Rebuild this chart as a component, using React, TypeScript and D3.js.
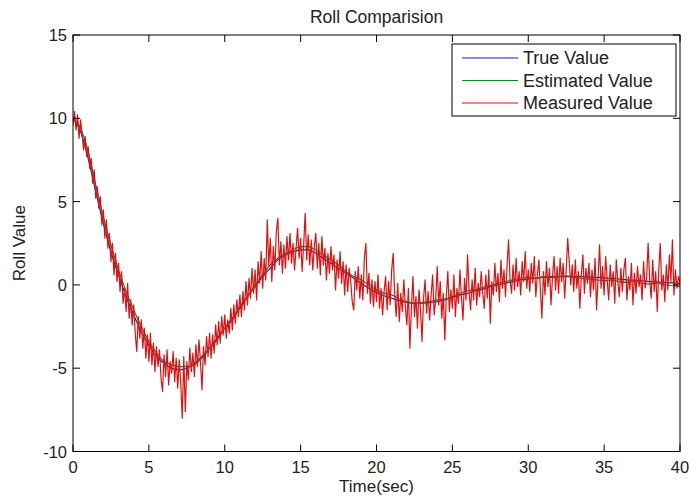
import React from "react";
import * as d3 from "d3";

const W = 689;
const H = 498;

const title = "Roll Comparision";
const xLabel = "Time(sec)";
const yLabel = "Roll Value";
const xTicks = [0, 5, 10, 15, 20, 25, 30, 35, 40];
const yTicks = [-10, -5, 0, 5, 10, 15];
const legendNames = ["True Value", "Estimated Value", "Measured Value"];
const seriesColors = ["#1c1cb8", "#0a8a1e", "#e01010"];

// sampled every 0.5 s from 0 to 40
const trueStep = 0.5;
const trueValues = [
  10.0, 9.2, 7.6, 5.6, 3.7, 2.0, 0.6, -0.7, -1.8, -2.8,
  -3.6, -4.3, -4.7, -5.0, -5.1, -5.0, -4.7, -4.3, -3.8, -3.2,
  -2.6, -2.0, -1.4, -0.7, -0.1, 0.5, 1.0, 1.5, 1.8, 2.0,
  2.1, 2.1, 1.9, 1.6, 1.3, 1.0, 0.7, 0.4, 0.1, -0.2,
  -0.45, -0.65, -0.8, -0.95, -1.05, -1.1, -1.1, -1.05, -1.0, -0.9,
  -0.75, -0.6, -0.5, -0.35, -0.25, -0.1, 0.0, 0.1, 0.2, 0.3,
  0.35, 0.4, 0.45, 0.5, 0.5, 0.5, 0.5, 0.5, 0.48, 0.45,
  0.42, 0.4, 0.35, 0.3, 0.28, 0.25, 0.2, 0.18, 0.15, 0.12,
  0.1,
];

const estimatedStep = 0.5;
const estimatedValues = [
  10.0, 9.4, 8.0, 6.0, 4.1, 2.4, 0.9, -0.4, -1.5, -2.5,
  -3.4, -4.1, -4.6, -4.8, -4.9, -4.9, -4.8, -4.4, -3.8, -3.3,
  -2.6, -2.1, -1.3, -0.7, 0.0, 0.6, 1.2, 1.6, 1.9, 2.1,
  2.3, 2.3, 2.1, 1.8, 1.5, 1.2, 0.8, 0.5, 0.3, 0.0,
  -0.3, -0.5, -0.6, -0.85, -1.0, -1.1, -1.05, -1.0, -0.9, -0.85,
  -0.7, -0.5, -0.35, -0.3, -0.15, -0.05, 0.1, 0.2, 0.3, 0.4,
  0.45, 0.4, 0.5, 0.45, 0.5, 0.55, 0.45, 0.4, 0.35, 0.3,
  0.25, 0.3, 0.2, 0.15, 0.2, 0.1, 0.05, 0.1, 0.0, -0.05,
  -0.1,
];

// sampled every 0.1 s from 0 to 40
const measuredStep = 0.1;
const measuredValues = [
  9.6, 10.4, 9.3, 10.2, 8.8, 9.9, 9.0, 8.1, 8.9, 7.7,
  8.3, 7.0, 7.6, 6.1, 6.9, 5.2, 5.9, 4.6, 5.3, 3.6,
  4.5, 2.8, 3.9, 2.2, 3.1, 1.4, 2.5, 0.6, 1.9, 0.2,
  1.3, -0.4, 0.8, -1.1, -0.2, -1.6, 0.1, -2.0, -0.9, -2.4,
  -1.2, -2.9, -4.0, -1.9, -3.2, -2.1, -3.8, -2.6, -4.4, -3.0,
  -4.6, -2.9, -4.8, -3.5, -5.2, -3.7, -4.9, -3.9, -5.6, -6.4,
  -4.2, -5.5, -3.9, -6.0, -4.6, -5.3, -4.0, -5.8, -4.4, -6.2,
  -4.5, -5.9, -8.0, -4.3, -7.6, -4.6, -5.7, -3.8, -5.2, -4.1,
  -5.5, -3.6, -4.9, -3.3, -4.6, -6.3, -3.7, -4.8, -3.1, -4.3,
  -2.9, -4.4, -3.0, -4.1, -2.4, -3.6, -2.2, -3.5, -1.9, -3.0,
  -1.8, -3.2, -2.1, -2.9, -1.4, -2.7, -1.2, -2.3, -0.9, -1.9,
  -0.6, -1.9, -0.4, -1.5, 0.2, -1.2, 0.4, -0.8, 1.0, -0.5,
  0.9, -0.9, 1.4, 0.1, 2.0, -0.2, 1.6, 0.3, 3.9, 1.1,
  2.8, 0.2, 2.3, 0.9, 3.2, 4.0, 1.2, 2.6, 0.7, 2.4,
  1.0, 2.9, 1.5, 3.1, 1.3, 2.5, 0.9, 2.2, 3.4, 1.6,
  2.8, 0.8, 2.4, 4.3, 1.5, 3.0, 1.2, 2.7, 0.9, 2.3,
  3.1, 1.0, 2.5, 0.6, 2.9, 1.2, 2.2, 0.3, 1.9, 0.7,
  2.3, 0.9, 1.8, -0.3, 1.5, 0.4, 2.0, 0.1, 1.4, -0.6,
  1.2, -0.4, 1.0, 0.2, -1.0, -1.5, 0.8, -0.3, 1.1, -0.8,
  0.6, -0.9, 1.6, 2.5, -0.5, 0.7, -1.1, 0.3, -1.3, 0.2,
  -1.0, 0.6, -1.4, -0.2, -1.8, -0.4, 0.5, -1.5, 0.2, -1.2,
  0.9, 1.9, -0.6, -1.9, 0.1, -2.2, -0.5, -1.6, 0.3, -1.3,
  -2.4, -0.2, -3.8, -1.4, 0.5, -1.9, -0.7, -2.6, -0.3, -1.5,
  -3.4, -0.8, 0.3, -1.7, -0.4, -2.1, -0.6, 0.6, -1.8, -0.9,
  1.1, -1.2, 0.2, -2.0, -0.5, -3.3, -0.7, 0.8, -1.6, -0.3,
  -1.4, 0.6, -1.9, -0.2, -1.1, 0.9, -0.8, -2.1, 0.4, -0.9,
  1.8, -0.4, -1.5, 0.3, -0.9, 1.0, -1.2, 0.1, -0.7, 0.8,
  -0.5, -1.4, 0.6, -0.8, 0.9, -2.3, 0.2, -0.6, 1.3, -0.4,
  0.7, -1.0, 1.5, -0.2, 0.9, -0.7, 1.1, 2.7, 0.3, -0.5,
  1.2, -0.3, 1.6, -0.1, 0.8, -0.6, 1.4, 0.2, 2.0, -0.2,
  0.9, -0.4, 1.3, 0.1, 1.7, -0.7, 0.6, 1.5, -0.3, -2.0,
  0.8, -0.6, 1.4, -0.1, 1.0, -1.2, 0.5, 1.7, -0.3, 1.1,
  -0.5, 1.6, 0.2, 1.3, -0.8, 0.9, 2.8, 1.4, 0.0, 1.2,
  -0.4, 1.5, -0.2, 0.8, -1.4, 0.6, 1.8, -0.5, 1.0, 0.1,
  1.3, -0.7, 0.9, -0.3, 1.6, -1.5, 0.4, 2.4, -0.2, 1.1,
  -0.6, 1.7, 0.3, -0.9, 1.2, -0.1, 0.8, -1.1, 1.5, 0.2,
  -0.7, 1.0, -0.4, 0.9, 1.6, -0.9, 0.5, -0.3, 1.3, -1.2,
  0.7, -0.5, 1.1, -0.1, 0.6, -0.9, 1.4, -0.2, 0.4, 2.5,
  0.3, -0.8, 1.5, -0.4, 0.8, -1.6, 0.9, 2.5, -0.3, 0.6,
  -1.0, 1.2, -0.3, 1.8, 0.2, 2.7, -0.6, 0.9, -0.2, 0.5,
  0.1,
];

const FONT = "'Liberation Sans', Arial, Helvetica, sans-serif";

export default function App() {
  const left = 73, right = 680, top = 35, bottom = 451.5;
  const x = d3.scaleLinear().domain([0, 40]).range([left, right]);
  const y = d3.scaleLinear().domain([-10, 15]).range([bottom, top]);

  const mk = (vals: number[], step: number) =>
    vals.map((v, i) => [i * step, v] as [number, number]);

  const lineLin = d3
    .line<[number, number]>()
    .x((d) => x(d[0]))
    .y((d) => y(d[1]));
  const lineSmooth = d3
    .line<[number, number]>()
    .x((d) => x(d[0]))
    .y((d) => y(d[1]))
    .curve(d3.curveMonotoneX);

  const series = [
    { d: lineSmooth(mk(trueValues, trueStep)), c: seriesColors[0] },
    { d: lineSmooth(mk(estimatedValues, estimatedStep)), c: seriesColors[1] },
    { d: lineLin(mk(measuredValues, measuredStep)), c: seriesColors[2] },
  ];

  const tickLen = 7;
  const lg = { x: 452, y: 44, w: 224, h: 72 };

  return (
    <svg
      width={W}
      height={H}
      style={{ position: "absolute", left: 0, top: 0, background: "#fff" }}
      fontFamily={FONT}
    >
      <rect x={0} y={0} width={W} height={H} fill="#fff" />
      <defs>
        <clipPath id="plotclip">
          <rect x={left} y={top} width={right - left} height={bottom - top} />
        </clipPath>
      </defs>
      <g clipPath="url(#plotclip)">
        {series.map((s, i) => (
          <path key={i} d={s.d || ""} fill="none" stroke={s.c} strokeWidth={1.2} strokeLinejoin="round" />
        ))}
      </g>
      <rect x={left} y={top} width={right - left} height={bottom - top} fill="none" stroke="#000" strokeWidth={1} />
      {xTicks.map((t) => (
        <g key={"x" + t}>
          <line x1={x(t)} x2={x(t)} y1={bottom} y2={bottom - tickLen} stroke="#000" />
          <line x1={x(t)} x2={x(t)} y1={top} y2={top + tickLen} stroke="#000" />
          <text x={x(t)} y={473} textAnchor="middle" fontSize={16.5} fill="#222">
            {t}
          </text>
        </g>
      ))}
      {yTicks.map((t) => (
        <g key={"y" + t}>
          <line x1={left} x2={left + tickLen} y1={y(t)} y2={y(t)} stroke="#000" />
          <line x1={right} x2={right - tickLen} y1={y(t)} y2={y(t)} stroke="#000" />
          <text x={left - 6} y={y(t) + 6} textAnchor="end" fontSize={16.5} fill="#222">
            {t}
          </text>
        </g>
      ))}
      <text x={(left + right) / 2} y={23} textAnchor="middle" fontSize={17.5} fill="#222">
        {title}
      </text>
      <text x={(left + right) / 2} y={492} textAnchor="middle" fontSize={17} fill="#222">
        {xLabel}
      </text>
      <text
        transform={`translate(25,${(top + bottom) / 2}) rotate(-90)`}
        textAnchor="middle"
        fontSize={17}
        fill="#222"
      >
        {yLabel}
      </text>
      <rect x={lg.x} y={lg.y} width={lg.w} height={lg.h} fill="#fff" stroke="#000" strokeWidth={1} />
      {legendNames.map((n, i) => {
        const cy = 58 + i * 22.5;
        return (
          <g key={n}>
            <line x1={462} x2={518} y1={cy} y2={cy} stroke={seriesColors[i]} strokeWidth={1.2} />
            <text x={523} y={cy + 6} fontSize={18} fill="#222">
              {n}
            </text>
          </g>
        );
      })}
    </svg>
  );
}
